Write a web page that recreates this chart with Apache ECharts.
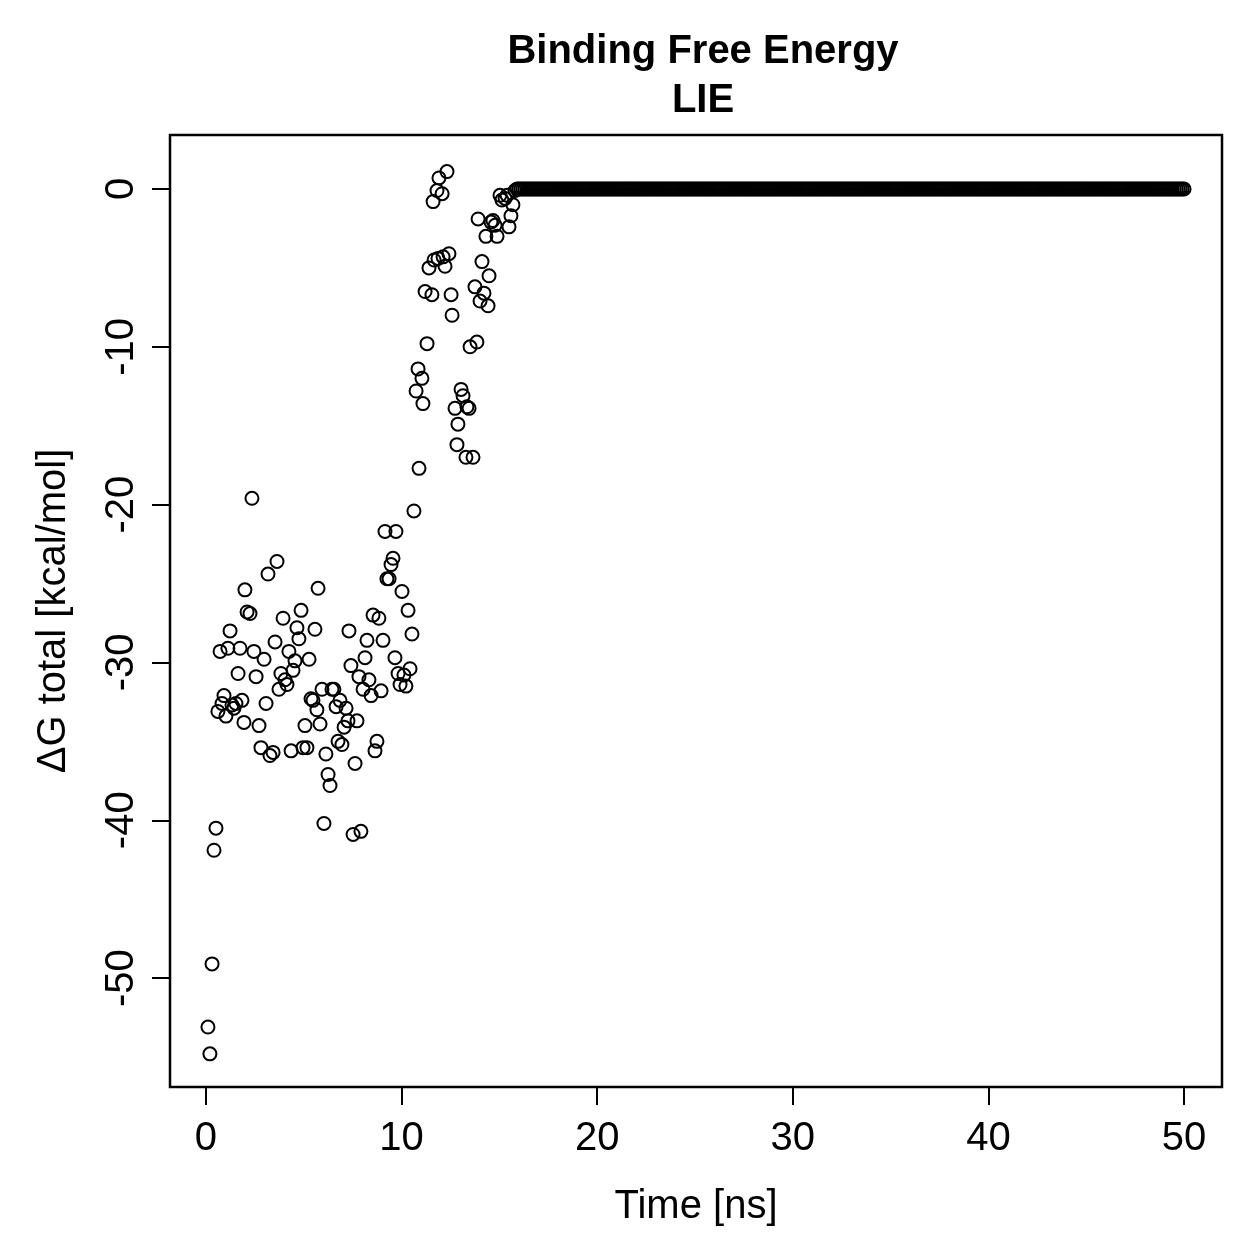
<!DOCTYPE html>
<html>
<head>
<meta charset="utf-8">
<title>Binding Free Energy LIE</title>
<script src="https://cdn.jsdelivr.net/npm/echarts@6/dist/echarts.min.js"></script>
<style>
  html, body { margin: 0; padding: 0; background: #fff; }
  #chart { width: 1259px; height: 1259px; }
</style>
</head>
<body>
<div id="chart"></div>
<script>
// time [ns] and dG total [kcal/mol] for the scattered part
const timeNs = [
  0.10, 0.20, 0.31, 0.41, 0.51, 0.61, 0.72, 0.82, 0.92, 1.02,
  1.12, 1.23, 1.33, 1.43, 1.53, 1.64, 1.74, 1.84, 1.94, 1.99,
  2.10, 2.25, 2.35, 2.45, 2.56, 2.71, 2.81, 2.97, 3.07, 3.17,
  3.27, 3.43, 3.53, 3.63, 3.73, 3.83, 3.94, 4.04, 4.14, 4.24,
  4.35, 4.45, 4.55, 4.65, 4.75, 4.86, 4.96, 5.06, 5.16, 5.27,
  5.37, 5.47, 5.57, 5.67, 5.73, 5.83, 5.93, 6.03, 6.13, 6.24,
  6.34, 6.44, 6.54, 6.65, 6.75, 6.85, 6.95, 7.06, 7.16, 7.26,
  7.31, 7.41, 7.52, 7.62, 7.72, 7.82, 7.92, 8.03, 8.13, 8.23,
  8.33, 8.44, 8.54, 8.64, 8.74, 8.84, 8.95, 9.05, 9.15, 9.25,
  9.36, 9.46, 9.56, 9.66, 9.71, 9.82, 9.92, 10.02, 10.12, 10.22,
  10.33, 10.43, 10.53, 10.63, 10.74, 10.84, 10.89, 11.04, 11.09, 11.20,
  11.30, 11.40, 11.55, 11.61, 11.66, 11.81, 11.86, 11.91, 12.07, 12.12,
  12.22, 12.32, 12.42, 12.53, 12.58, 12.73, 12.83, 12.88, 13.04, 13.14,
  13.29, 13.34, 13.45, 13.50, 13.65, 13.75, 13.85, 13.91, 14.01, 14.11,
  14.21, 14.31, 14.42, 14.47, 14.57, 14.67, 14.78, 14.88, 15.03, 15.13,
  15.29, 15.39, 15.49, 15.59, 15.69, 15.80
];
const deltaG = [
  -53.1, -54.8, -49.1, -41.9, -40.5, -33.1, -29.3, -32.6, -32.1, -33.4,
  -29.1, -28.0, -32.7, -32.9, -32.6, -30.7, -29.1, -32.4, -33.8, -25.4,
  -26.8, -26.9, -19.6, -29.3, -30.9, -34.0, -35.4, -29.8, -32.6, -24.4,
  -35.9, -35.7, -28.7, -23.6, -31.7, -30.7, -27.2, -31.1, -31.4, -29.3,
  -35.6, -30.5, -29.9, -27.8, -28.5, -26.7, -35.4, -34.0, -35.4, -29.8,
  -32.3, -32.4, -27.9, -33.0, -25.3, -33.9, -31.7, -40.2, -35.8, -37.1,
  -37.8, -31.7, -31.7, -32.8, -35.0, -32.4, -35.2, -34.1, -32.9, -33.7,
  -28.0, -30.2, -40.9, -36.4, -33.7, -30.9, -40.7, -31.7, -29.7, -28.6,
  -31.1, -32.1, -27.0, -35.6, -35.0, -27.2, -31.8, -28.6, -21.7, -24.7,
  -24.7, -23.8, -23.4, -29.7, -21.7, -30.7, -31.4, -25.5, -30.8, -31.5,
  -26.7, -30.4, -28.2, -20.4, -12.8, -11.4, -17.7, -12.0, -13.6, -6.5,
  -9.8, -5.0, -6.7, -0.8, -4.5, -0.1, -4.4, 0.7, -0.3, -4.3,
  -4.9, 1.1, -4.1, -6.7, -8.0, -13.9, -16.2, -14.9, -12.7, -13.1,
  -17.0, -13.8, -13.9, -10.0, -17.0, -6.2, -9.7, -1.9, -7.1, -4.6,
  -6.6, -3.0, -7.4, -5.5, -2.1, -2.0, -2.3, -3.0, -0.4, -0.7,
  -0.6, -0.4, -2.4, -1.7, -1.0, -0.1
];
// after ~16 ns the value sits flat at 0, one frame every 0.1 ns up to 50 ns
const plateauStart = 15.9;
const plateauEnd = 50.0;
const plateauStep = 0.1;
const plateauValue = 0;

const xTicks = [0, 10, 20, 30, 40, 50];
const yTicks = [-50, -40, -30, -20, -10, 0];

const points = timeNs.map((t, i) => [t, deltaG[i]]);
const nPlateau = Math.round((plateauEnd - plateauStart) / plateauStep);
for (let i = 0; i <= nPlateau; i++) {
  points.push([+(plateauStart + i * plateauStep).toFixed(1), plateauValue]);
}

const font = 'Liberation Sans, Arial, Helvetica, sans-serif';
const chart = echarts.init(document.getElementById('chart'), null, { renderer: 'canvas' });
const option = {
  animation: false,
  backgroundColor: '#fff',
  title: {
    text: 'Binding Free Energy\nLIE',
    left: 698,
    top: 22,
    textAlign: 'center',
    textStyle: {
      fontFamily: font,
      fontWeight: 'bold',
      fontSize: 40,
      lineHeight: 49,
      color: '#000',
    },
  },
  grid: {
    left: 170,
    top: 135,
    width: 1052,
    height: 952,
    show: true,
    borderColor: '#000',
    borderWidth: 2.5,
    backgroundColor: 'transparent',
  },
  xAxis: {
    type: 'value',
    min: -1.84,
    max: 51.94,
    name: 'Time [ns]',
    nameLocation: 'middle',
    nameGap: 100,
    nameTextStyle: { fontFamily: font, fontSize: 40, color: '#000', verticalAlign: 'top' },
    axisLine: { show: false, onZero: false },
    axisTick: {
      show: true,
      length: 18,
      lineStyle: { color: '#000', width: 2 },
      customValues: xTicks,
    },
    axisLabel: {
      fontFamily: font,
      fontSize: 40,
      color: '#000',
      margin: 32,
      customValues: xTicks,
    },
    splitLine: { show: false },
  },
  yAxis: {
    type: 'value',
    min: -56.9,
    max: 3.42,
    name: 'ΔG total [kcal/mol]',
    nameLocation: 'middle',
    nameGap: 96,
    nameTextStyle: { fontFamily: font, fontSize: 40, color: '#000' },
    axisLine: { show: false, onZero: false },
    axisTick: {
      show: true,
      length: 18,
      lineStyle: { color: '#000', width: 2 },
      customValues: yTicks,
    },
    axisLabel: {
      fontFamily: font,
      fontSize: 40,
      color: '#000',
      rotate: 90,
      margin: 28,
      customValues: yTicks,
    },
    splitLine: { show: false },
  },
  series: [
    {
      type: 'scatter',
      data: points,
      symbol: 'circle',
      symbolSize: 13,
      itemStyle: {
        color: 'transparent',
        borderColor: '#000',
        borderWidth: 2,
        opacity: 1,
      },
      emphasis: { disabled: true },
    },
  ],
};
chart.setOption(option);
</script>
</body>
</html>
